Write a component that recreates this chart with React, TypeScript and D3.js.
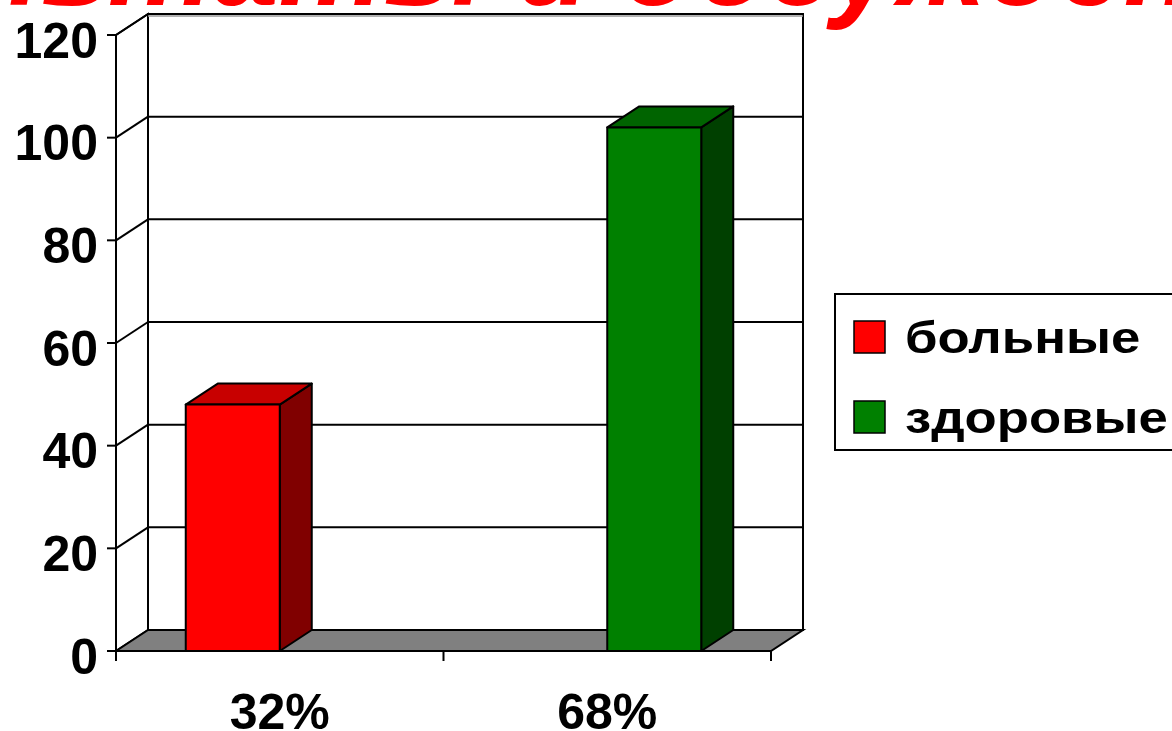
import React, { useLayoutEffect, useRef, useState } from "react";
import * as d3 from "d3";

const categories = ["32%", "68%"];
const seriesNames = ["больные", "здоровые"];
// value per category, one array per series
const sick = [48, 0];
const healthy = [0, 102];
const yTicks = [0, 20, 40, 60, 80, 100, 120];
const titleText = "Результаты и обсуждение";

const frontColors = ["#ff0000", "#008000"];
const topColors = ["#c80000", "#006400"];
const sideColors = ["#800000", "#004000"];

export default function App() {
    const width = 1172;
    const height = 731;
    const margin = { left: 116, right: 401, top: 35, bottom: 80 };
    const depth = { dx: 32, dy: -21 };

    const titleRef = useRef(null);
    const [titleX, setTitleX] = useState(-185);

    // the title sits mostly above the picture; line up "обсуждение" with the reference
    useLayoutEffect(() => {
        const node = titleRef.current;
        if (!node || !node.getStartPositionOfChar) return;
        const idx = titleText.indexOf("обсуждение");
        const pos = node.getStartPositionOfChar(idx).x;
        const shift = 622 - pos;
        if (Math.abs(shift) > 0.5) setTitleX(x => x + shift);
    }, []);

    const x0 = margin.left;
    const x1 = width - margin.right; // 771
    const yBase = height - margin.bottom; // 651

    const y = d3.scaleLinear().domain([0, 120]).range([yBase, margin.top]);
    const xCat = d3.scaleBand().domain(categories).range([x0, x1]).padding(0);
    const xSeries = d3.scaleBand()
        .domain(seriesNames)
        .range([0, xCat.bandwidth()])
        .paddingInner(0)
        .paddingOuter(0.742);

    const seriesValues = [sick, healthy];

    const bars = [];
    categories.forEach((c, ci) => {
        seriesNames.forEach((s, si) => {
            const v = seriesValues[si][ci];
            if (v > 0) bars.push({ c, s, si, v });
        });
    });

    const { dx, dy } = depth;
    const yTop = y(120);

    const pts = (arr) => arr.map(p => p.join(",")).join(" ");

    return (
        <svg width={width} height={height} style={{ position: "absolute", left: 0, top: 0, background: "#fff" }}
             fontFamily="'Liberation Sans', Arial, sans-serif">
            <text ref={titleRef} x={titleX} y={5} fontSize={118} fontWeight="bold" fontStyle="italic" fill="#ff0000">{titleText}</text>

            {/* left wall */}
            <polygon points={pts([[x0, yBase], [x0, yTop], [x0 + dx, yTop + dy], [x0 + dx, yBase + dy]])}
                     fill="#fff" stroke="#000" strokeWidth={2} />
            {/* back wall */}
            <rect x={x0 + dx} y={yTop + dy} width={x1 - x0} height={yBase - yTop}
                  fill="#fff" stroke="#000" strokeWidth={2} />
            <line x1={x0 + dx} y1={yTop + dy + 2} x2={x1 + dx} y2={yTop + dy + 2} stroke="#999" strokeWidth={1.5} />
            {/* gridlines */}
            {yTicks.filter(t => t > 0).map(t => (
                <g key={t}>
                    <line x1={x0} y1={y(t)} x2={x0 + dx} y2={y(t) + dy} stroke="#000" strokeWidth={2} />
                    <line x1={x0 + dx} y1={y(t) + dy} x2={x1 + dx} y2={y(t) + dy} stroke="#000" strokeWidth={2} />
                </g>
            ))}
            {/* floor */}
            <polygon points={pts([[x0, yBase], [x1, yBase], [x1 + dx, yBase + dy], [x0 + dx, yBase + dy]])}
                     fill="#808080" stroke="#000" strokeWidth={2} />

            {/* bars */}
            {bars.map(b => {
                const bx = xCat(b.c) + xSeries(b.s);
                const bw = xSeries.bandwidth();
                const by = y(b.v);
                return (
                    <g key={b.c + b.s} stroke="#000" strokeWidth={2} strokeLinejoin="round">
                        <polygon points={pts([[bx + bw, yBase], [bx + bw, by], [bx + bw + dx, by + dy], [bx + bw + dx, yBase + dy]])}
                                 fill={sideColors[b.si]} />
                        <polygon points={pts([[bx, by], [bx + bw, by], [bx + bw + dx, by + dy], [bx + dx, by + dy]])}
                                 fill={topColors[b.si]} />
                        <rect x={bx} y={by} width={bw} height={yBase - by} fill={frontColors[b.si]} />
                    </g>
                );
            })}

            {/* value axis */}
            <line x1={x0} y1={yTop} x2={x0} y2={yBase + 10} stroke="#000" strokeWidth={2} />
            {yTicks.map(t => (
                <g key={t}>
                    <line x1={x0 - 9} y1={y(t)} x2={x0} y2={y(t)} stroke="#000" strokeWidth={2} />
                    <text x={x0 - 18} y={y(t) + 5} dy="0.35em" textAnchor="end" fontSize={50} fontWeight="bold">{t}</text>
                </g>
            ))}

            {/* category axis */}
            <line x1={x0 - 9} y1={yBase} x2={x1} y2={yBase} stroke="#000" strokeWidth={2} />
            {[...categories.map(c => xCat(c)), x1].map((tx, i) => (
                <line key={i} x1={tx} y1={yBase} x2={tx} y2={yBase + 10} stroke="#000" strokeWidth={2} />
            ))}
            {categories.map(c => (
                <text key={c} x={xCat(c) + xCat.bandwidth() / 2} y={729} textAnchor="middle"
                      fontSize={50} fontWeight="bold">{c}</text>
            ))}

            {/* legend */}
            <rect x={835} y={294} width={360} height={156} fill="#fff" stroke="#000" strokeWidth={2} />
            {seriesNames.map((s, i) => (
                <g key={s}>
                    <rect x={854} y={321 + i * 80} width={31} height={32} fill={frontColors[i]} stroke="#000" strokeWidth={1.5} />
                    <text transform={`translate(905,${353 + i * 80}) scale(1.17,1)`} fontSize={45} fontWeight="bold">{s}</text>
                </g>
            ))}
        </svg>
    );
}
